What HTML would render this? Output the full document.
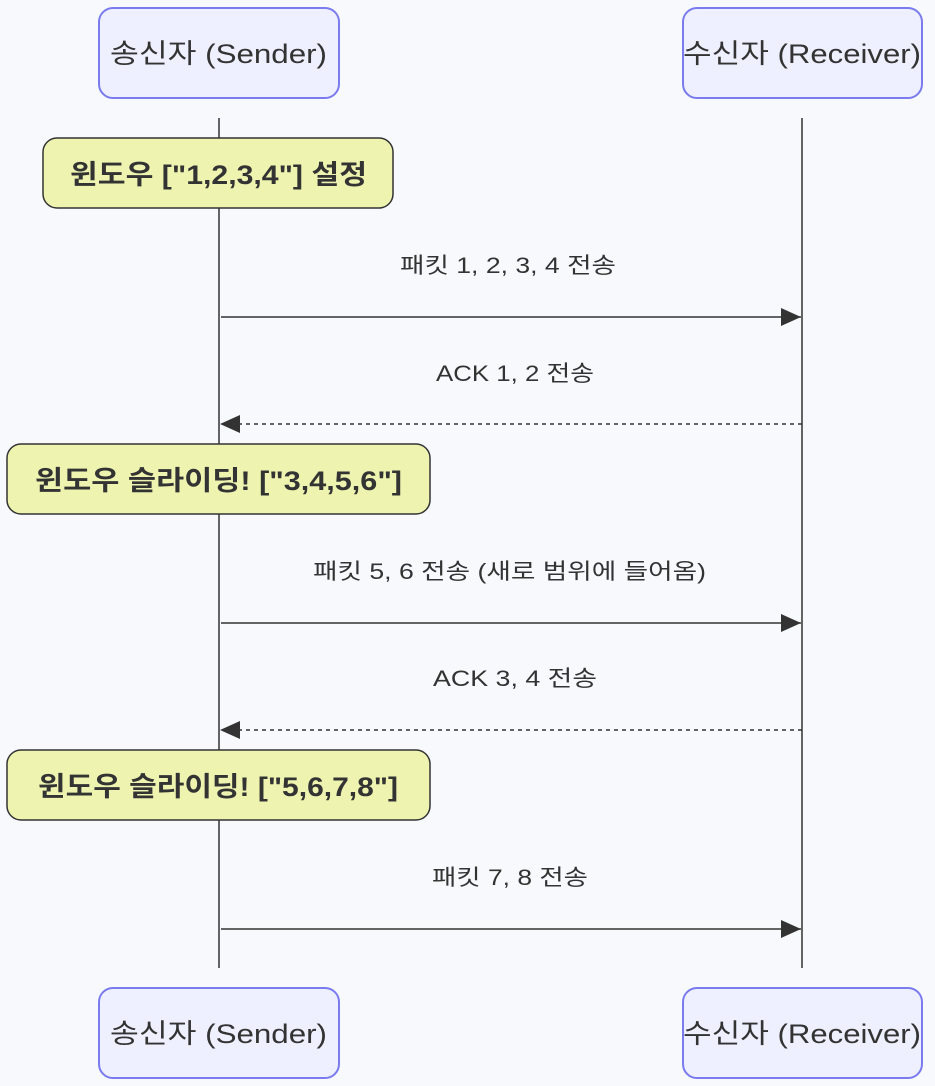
<!DOCTYPE html>
<html><head><meta charset="utf-8"><style>
html,body{margin:0;padding:0;background:#f8f9fc;}
svg{display:block;}
text{font-family:"Liberation Sans","Noto Sans CJK KR",sans-serif;fill:#333;}
</style></head><body>
<svg width="935" height="1086" viewBox="0 0 935 1086" xmlns="http://www.w3.org/2000/svg">
<defs>
<marker id="a" markerWidth="20" markerHeight="18" refX="20" refY="9" orient="auto" markerUnits="userSpaceOnUse" viewBox="0 0 20 18">
<path d="M0,0 L20,9 L0,18 z" fill="#333"/></marker>
</defs>
<rect width="935" height="1086" fill="#f8f9fc"/>
<line x1="219" y1="118" x2="219" y2="968" stroke="#333" stroke-width="1.5"/>
<line x1="802" y1="118" x2="802" y2="968" stroke="#333" stroke-width="1.5"/>
<g stroke="#7b7bf0" stroke-width="2" fill="#eef0ff">
<rect x="99" y="8" width="240" height="90" rx="14"/>
<rect x="683" y="8" width="239" height="90" rx="14"/>
<rect x="99" y="988" width="240" height="90" rx="14"/>
<rect x="683" y="988" width="239" height="90" rx="14"/>
</g>
<g font-size="27" lengthAdjust="spacingAndGlyphs">
<text x="110" y="63" textLength="217" lengthAdjust="spacingAndGlyphs">송신자 (Sender)</text>
<text x="683" y="63" textLength="238" lengthAdjust="spacingAndGlyphs">수신자 (Receiver)</text>
<text x="110" y="1043" textLength="217" lengthAdjust="spacingAndGlyphs">송신자 (Sender)</text>
<text x="683" y="1043" textLength="238" lengthAdjust="spacingAndGlyphs">수신자 (Receiver)</text>
</g>
<g stroke="#333" stroke-width="1.5" fill="#eef4b0">
<rect x="43" y="138" width="350" height="70" rx="14"/>
<rect x="7" y="444" width="423" height="70" rx="14"/>
<rect x="7" y="750" width="423" height="70" rx="14"/>
</g>
<g font-size="27" font-weight="bold">
<text x="70" y="184" textLength="297" lengthAdjust="spacingAndGlyphs">윈도우 ["1,2,3,4"] 설정</text>
<text x="35" y="490" textLength="367" lengthAdjust="spacingAndGlyphs">윈도우 슬라이딩! ["3,4,5,6"]</text>
<text x="38" y="796" textLength="360" lengthAdjust="spacingAndGlyphs">윈도우 슬라이딩! ["5,6,7,8"]</text>
</g>
<g font-size="22">
<text x="400" y="273" textLength="216" lengthAdjust="spacingAndGlyphs">패킷 1, 2, 3, 4 전송</text>
<text x="436" y="381" textLength="158" lengthAdjust="spacingAndGlyphs">ACK 1, 2 전송</text>
<text x="313" y="579" textLength="393" lengthAdjust="spacingAndGlyphs">패킷 5, 6 전송 (새로 범위에 들어옴)</text>
<text x="433" y="686" textLength="164" lengthAdjust="spacingAndGlyphs">ACK 3, 4 전송</text>
<text x="432" y="885" textLength="156" lengthAdjust="spacingAndGlyphs">패킷 7, 8 전송</text>
</g>
<g stroke="#333" stroke-width="1.5" fill="none">
<line x1="221" y1="317" x2="801" y2="317" marker-end="url(#a)"/>
<line x1="802" y1="424" x2="220" y2="424" stroke-dasharray="4,4" marker-end="url(#a)"/>
<line x1="221" y1="623" x2="801" y2="623" marker-end="url(#a)"/>
<line x1="802" y1="730" x2="220" y2="730" stroke-dasharray="4,4" marker-end="url(#a)"/>
<line x1="221" y1="929" x2="801" y2="929" marker-end="url(#a)"/>
</g>
</svg>
</body></html>
